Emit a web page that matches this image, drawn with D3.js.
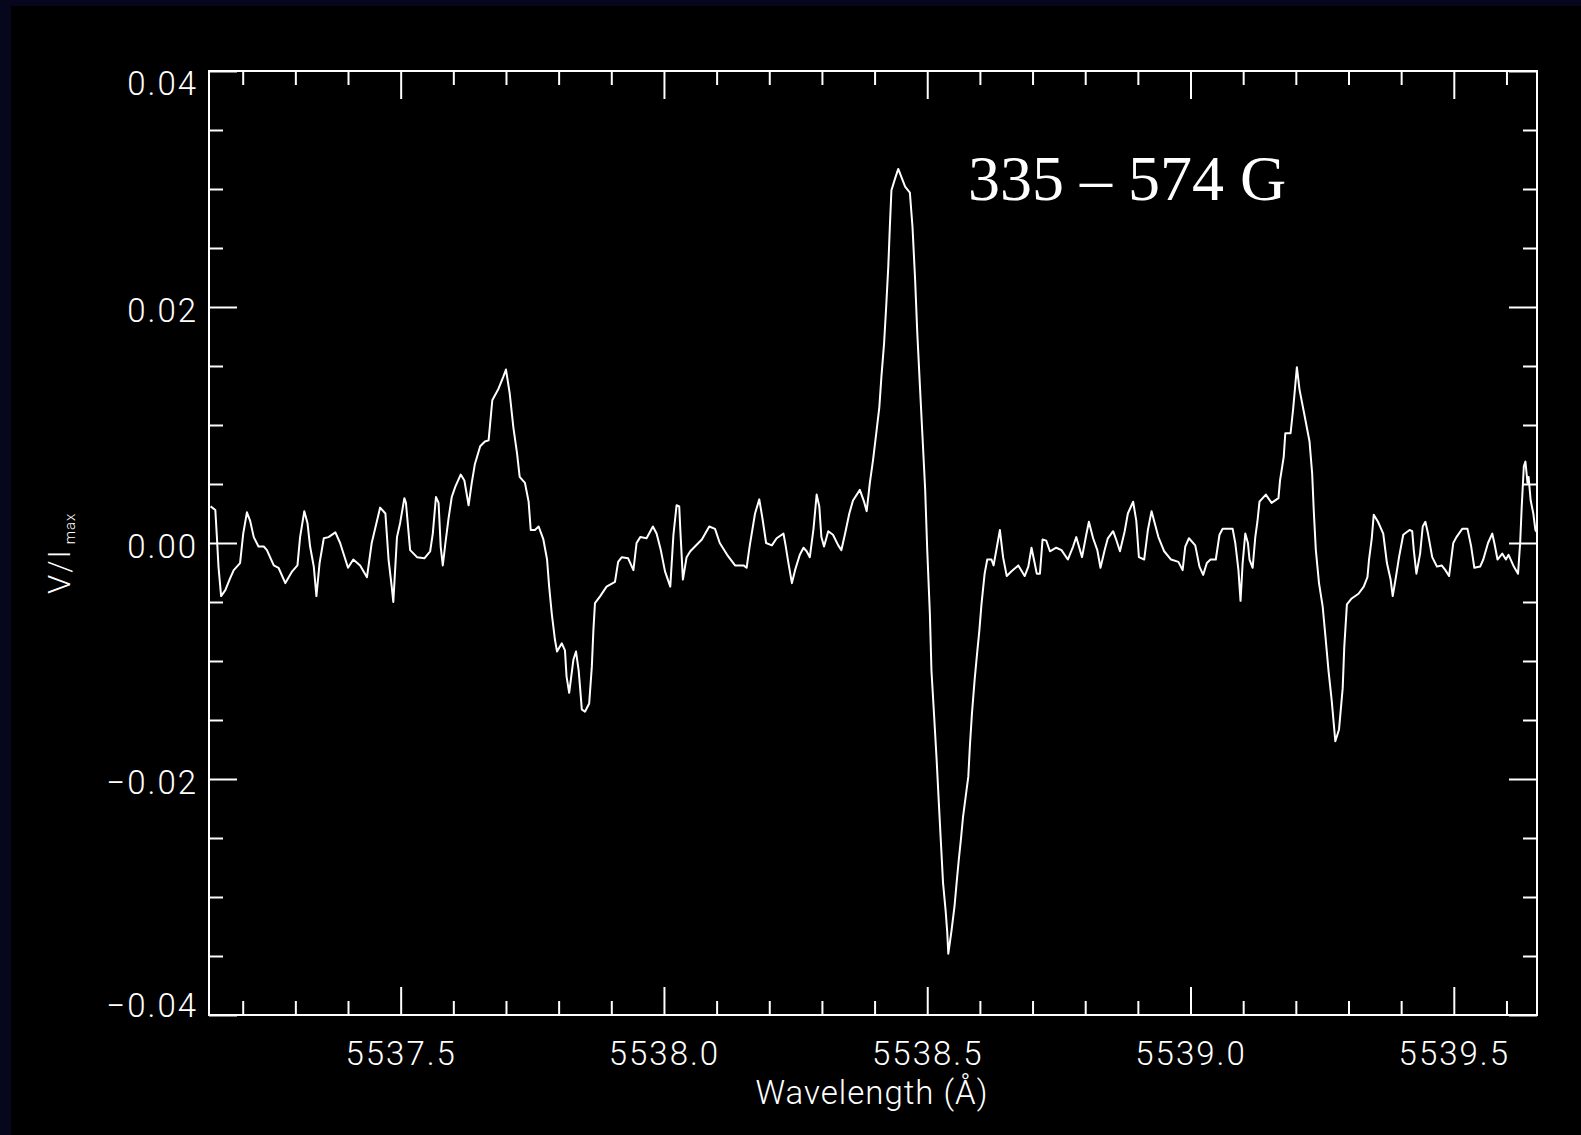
<!DOCTYPE html>
<html><head><meta charset="utf-8">
<script src="https://cdn.jsdelivr.net/npm/d3@7"></script>
<style>
html,body{margin:0;padding:0;background:#000;}
svg{display:block;}
</style></head><body>
<svg id="chart" width="1581" height="1135"></svg>
<script>
// ---- data ----
const wavelength = [
5537.139,5537.148,5537.151,5537.154,5537.159,5537.167,5537.176,5537.183,5537.195,5537.201,
5537.208,5537.214,5537.221,5537.230,5537.240,5537.246,5537.259,5537.268,5537.281,5537.294,
5537.304,5537.309,5537.317,5537.323,5537.328,5537.335,5537.340,5537.346,5537.354,5537.363,
5537.376,5537.385,5537.400,5537.410,5537.423,5537.436,5537.445,5537.461,5537.471,5537.477,
5537.483,5537.486,5537.493,5537.499,5537.507,5537.510,5537.518,5537.531,5537.545,5537.556,
5537.561,5537.567,5537.572,5537.576,5537.580,5537.585,5537.591,5537.597,5537.604,5537.614,
5537.621,5537.629,5537.635,5537.641,5537.651,5537.660,5537.667,5537.674,5537.686,5537.695,
5537.700,5537.707,5537.714,5537.721,5537.726,5537.736,5537.743,5537.747,5537.755,5537.762,
5537.771,5537.778,5537.782,5537.787,5537.793,5537.797,5537.806,5537.812,5537.815,5537.820,
5537.828,5537.833,5537.838,5537.841,5537.844,5537.850,5537.858,5537.863,5537.866,5537.869,
5537.879,5537.891,5537.907,5537.913,5537.920,5537.932,5537.942,5537.948,5537.955,5537.967,
5537.979,5537.986,5537.994,5538.002,5538.012,5538.018,5538.024,5538.029,5538.031,5538.036,
5538.043,5538.050,5538.072,5538.086,5538.097,5538.106,5538.120,5538.135,5538.151,5538.157,
5538.163,5538.173,5538.181,5538.187,5538.194,5538.205,5538.214,5538.227,5538.231,5538.236,
5538.243,5538.249,5538.258,5538.265,5538.271,5538.277,5538.284,5538.290,5538.295,5538.299,
5538.304,5538.312,5538.321,5538.331,5538.337,5538.344,5538.352,5538.359,5538.372,5538.380,
5538.385,5538.391,5538.397,5538.404,5538.409,5538.413,5538.418,5538.422,5538.426,5538.429,
5538.432,5538.439,5538.445,5538.451,5538.458,5538.467,5538.472,5538.477,5538.481,5538.486,
5538.491,5538.496,5538.500,5538.505,5538.508,5538.513,5538.518,5538.522,5538.526,5538.530,
5538.535,5538.538,5538.540,5538.546,5538.552,5538.556,5538.560,5538.564,5538.568,5538.573,
5538.578,5538.581,5538.585,5538.590,5538.595,5538.599,5538.603,5538.609,5538.614,5538.622,
5538.626,5538.632,5538.638,5538.644,5538.651,5538.660,5538.673,5538.685,5538.692,5538.698,
5538.704,5538.708,5538.714,5538.719,5538.726,5538.733,5538.745,5538.755,5538.767,5538.777,
5538.783,5538.790,5538.794,5538.802,5538.807,5538.815,5538.823,5538.829,5538.837,5538.843,
5538.853,5538.858,5538.866,5538.875,5538.881,5538.891,5538.897,5538.902,5538.912,5538.919,
5538.926,5538.939,5538.950,5538.963,5538.977,5538.985,5538.990,5538.997,5539.009,5539.017,
5539.024,5539.031,5539.038,5539.048,5539.055,5539.061,5539.080,5539.085,5539.091,5539.095,
5539.099,5539.104,5539.109,5539.112,5539.118,5539.123,5539.127,5539.131,5539.143,5539.154,
5539.167,5539.170,5539.177,5539.180,5539.190,5539.195,5539.202,5539.207,5539.217,5539.226,
5539.231,5539.234,5539.238,5539.244,5539.251,5539.256,5539.262,5539.268,5539.275,5539.282,
5539.289,5539.292,5539.297,5539.306,5539.319,5539.329,5539.336,5539.339,5539.344,5539.348,
5539.356,5539.366,5539.373,5539.380,5539.384,5539.390,5539.396,5539.404,5539.416,5539.421,
5539.424,5539.429,5539.436,5539.441,5539.446,5539.451,5539.459,5539.468,5539.477,5539.484,
5539.491,5539.499,5539.505,5539.516,5539.526,5539.533,5539.539,5539.550,5539.556,5539.565,
5539.573,5539.577,5539.583,5539.592,5539.599,5539.604,5539.614,5539.622,5539.626,5539.629,
5539.633,5539.636,5539.640,5539.642,5539.646,5539.651,5539.655,5539.658
];
const stokesV = [
0.0031,0.0028,0.0005,-0.0020,-0.0045,-0.0040,-0.0030,-0.0023,-0.0017,0.0008,
0.0026,0.0019,0.0005,-0.0003,-0.0003,-0.0006,-0.0019,-0.0021,-0.0034,-0.0024,
-0.0019,0.0005,0.0027,0.0017,-0.0003,-0.0020,-0.0045,-0.0017,0.0004,0.0005,
0.0009,0.0000,-0.0021,-0.0014,-0.0019,-0.0029,0.0000,0.0030,0.0025,-0.0014,
-0.0037,-0.0050,0.0005,0.0017,0.0038,0.0034,-0.0006,-0.0012,-0.0013,-0.0007,
0.0008,0.0039,0.0034,-0.0003,-0.0019,0.0000,0.0021,0.0039,0.0048,0.0058,
0.0053,0.0032,0.0051,0.0067,0.0082,0.0086,0.0087,0.0121,0.0131,0.0141,
0.0147,0.0127,0.0098,0.0076,0.0056,0.0051,0.0035,0.0011,0.0011,0.0014,
0.0003,-0.0014,-0.0037,-0.0060,-0.0082,-0.0092,-0.0085,-0.0091,-0.0113,-0.0127,
-0.0099,-0.0092,-0.0108,-0.0124,-0.0141,-0.0143,-0.0136,-0.0105,-0.0074,-0.0051,
-0.0045,-0.0037,-0.0033,-0.0016,-0.0012,-0.0013,-0.0023,0.0000,0.0005,0.0004,
0.0014,0.0008,-0.0006,-0.0024,-0.0037,0.0007,0.0032,0.0031,0.0012,-0.0031,
-0.0012,-0.0007,0.0003,0.0014,0.0012,0.0000,-0.0010,-0.0019,-0.0019,-0.0021,
-0.0002,0.0025,0.0037,0.0021,0.0000,-0.0002,0.0004,0.0008,-0.0002,-0.0016,
-0.0034,-0.0023,-0.0010,-0.0004,-0.0007,-0.0012,0.0012,0.0041,0.0031,0.0005,
-0.0003,0.0010,0.0007,-0.0002,-0.0006,0.0008,0.0025,0.0036,0.0045,0.0035,
0.0027,0.0051,0.0070,0.0096,0.0115,0.0141,0.0169,0.0200,0.0234,0.0268,
0.0299,0.0309,0.0317,0.0310,0.0302,0.0297,0.0268,0.0223,0.0179,0.0134,
0.0090,0.0046,-0.0006,-0.0060,-0.0108,-0.0146,-0.0185,-0.0220,-0.0254,-0.0288,
-0.0312,-0.0330,-0.0348,-0.0329,-0.0307,-0.0287,-0.0268,-0.0251,-0.0232,-0.0215,
-0.0198,-0.0172,-0.0144,-0.0116,-0.0092,-0.0074,-0.0052,-0.0026,-0.0014,-0.0014,
-0.0019,-0.0004,0.0011,-0.0012,-0.0028,-0.0024,-0.0019,-0.0028,-0.0020,-0.0004,
-0.0017,-0.0026,-0.0026,0.0003,0.0002,-0.0007,-0.0004,-0.0006,-0.0014,-0.0003,
0.0005,-0.0006,-0.0012,0.0007,0.0018,0.0004,-0.0006,-0.0021,-0.0006,0.0004,
0.0010,0.0004,-0.0007,0.0010,0.0025,0.0035,0.0019,-0.0012,-0.0014,0.0011,
0.0027,0.0005,-0.0007,-0.0014,-0.0016,-0.0023,-0.0003,0.0004,-0.0002,-0.0020,
-0.0027,-0.0017,-0.0014,-0.0014,0.0007,0.0012,0.0012,0.0000,-0.0023,-0.0049,
-0.0017,0.0008,0.0000,-0.0014,-0.0021,0.0005,0.0018,0.0035,0.0041,0.0034,
0.0038,0.0053,0.0073,0.0093,0.0093,0.0114,0.0149,0.0130,0.0107,0.0086,
0.0059,0.0028,-0.0006,-0.0034,-0.0054,-0.0078,-0.0108,-0.0133,-0.0168,-0.0158,
-0.0123,-0.0088,-0.0052,-0.0047,-0.0043,-0.0037,-0.0029,-0.0014,0.0003,0.0024,
0.0018,0.0008,-0.0017,-0.0031,-0.0045,-0.0029,-0.0012,0.0007,0.0011,0.0010,
-0.0006,-0.0026,-0.0009,0.0014,0.0018,0.0008,-0.0012,-0.0020,-0.0019,-0.0023,
-0.0028,0.0000,0.0005,0.0012,0.0012,-0.0003,-0.0021,-0.0020,-0.0014,0.0000,
0.0008,0.0000,-0.0014,-0.0009,-0.0014,-0.0010,-0.0020,-0.0026,0.0000,0.0031,
0.0065,0.0069,0.0051,0.0056,0.0036,0.0025,0.0011,0.0009
];
const xDomain = [5537.136, 5539.658];
const yDomain = [-0.04, 0.04];
const xMajorTicks = [5537.5, 5538.0, 5538.5, 5539.0, 5539.5];
const xMinorTicks = [5537.2,5537.3,5537.4,5537.6,5537.7,5537.8,5537.9,5538.1,5538.2,5538.3,5538.4,
                     5538.6,5538.7,5538.8,5538.9,5539.1,5539.2,5539.3,5539.4,5539.6];
const yMajorTicks = [-0.04, -0.02, 0.00, 0.02, 0.04];
const yMinorTicks = [-0.035,-0.03,-0.025,-0.015,-0.01,-0.005,0.005,0.01,0.015,0.025,0.03,0.035];
const xTitle = "Wavelength (Å)";
const yTitleMain = "V/I";
const yTitleSub = "max";
const annotation = "335 – 574 G";

// ---- drawing ----
const W = 1581, H = 1135;
const plot = {left: 209, right: 1537, top: 71, bottom: 1015};
const x = d3.scaleLinear().domain(xDomain).range([plot.left, plot.right]);
const y = d3.scaleLinear().domain(yDomain).range([plot.bottom, plot.top]);
const svg = d3.select("#chart");
const FONT = "Roboto, 'DejaVu Sans', sans-serif";

svg.append("rect").attr("width", W).attr("height", H).attr("fill", "#06061c");
svg.append("rect").attr("x", 11).attr("y", 6).attr("width", W - 11).attr("height", H - 6).attr("fill", "#000");

svg.append("defs").append("clipPath").attr("id", "clip")
  .append("rect").attr("x", plot.left).attr("y", plot.top)
  .attr("width", plot.right - plot.left).attr("height", plot.bottom - plot.top);

function tidy(g) {
  g.select(".domain").remove();
  g.selectAll("line").attr("stroke", "#fff").attr("stroke-width", 2);
}
function labelStyle(sel) {
  sel.attr("fill", "#fff").attr("font-family", FONT).attr("font-size", 33)
     .attr("font-weight", 300).attr("letter-spacing", 2);
}

// bottom axis
const gB = svg.append("g").attr("transform", `translate(0,${plot.bottom})`)
  .call(d3.axisBottom(x).tickValues(xMajorTicks).tickSize(-28).tickSizeOuter(0).tickFormat(d3.format(".1f")));
tidy(gB);
gB.selectAll("text").attr("y", 50).attr("dy", 0).call(labelStyle);
const gBm = svg.append("g").attr("transform", `translate(0,${plot.bottom})`)
  .call(d3.axisBottom(x).tickValues(xMinorTicks).tickSize(-14).tickSizeOuter(0).tickFormat(""));
tidy(gBm);
// top axis
const gT = svg.append("g").attr("transform", `translate(0,${plot.top})`)
  .call(d3.axisTop(x).tickValues(xMajorTicks).tickSize(-28).tickSizeOuter(0).tickFormat(""));
tidy(gT);
const gTm = svg.append("g").attr("transform", `translate(0,${plot.top})`)
  .call(d3.axisTop(x).tickValues(xMinorTicks).tickSize(-14).tickSizeOuter(0).tickFormat(""));
tidy(gTm);

// left axis
const capH = 23.5;
const gL = svg.append("g").attr("transform", `translate(${plot.left},0)`)
  .call(d3.axisLeft(y).tickValues(yMajorTicks).tickSize(-28).tickSizeOuter(0).tickFormat(d3.format(".2f")));
tidy(gL);
gL.selectAll("text").call(labelStyle)
  .attr("x", -11).attr("dy", 0)
  .attr("y", d => {
    let base = y(d) + 3 + capH / 2;
    base = Math.max(base, plot.top + capH);
    base = Math.min(base, plot.bottom + 1.5);
    return base - y(d);
  });
const gLm = svg.append("g").attr("transform", `translate(${plot.left},0)`)
  .call(d3.axisLeft(y).tickValues(yMinorTicks).tickSize(-14).tickSizeOuter(0).tickFormat(""));
tidy(gLm);
// right axis
const gR = svg.append("g").attr("transform", `translate(${plot.right},0)`)
  .call(d3.axisRight(y).tickValues(yMajorTicks).tickSize(-28).tickSizeOuter(0).tickFormat(""));
tidy(gR);
const gRm = svg.append("g").attr("transform", `translate(${plot.right},0)`)
  .call(d3.axisRight(y).tickValues(yMinorTicks).tickSize(-14).tickSizeOuter(0).tickFormat(""));
tidy(gRm);

// frame
svg.append("rect").attr("x", plot.left).attr("y", plot.top)
  .attr("width", plot.right - plot.left).attr("height", plot.bottom - plot.top)
  .attr("fill", "none").attr("stroke", "#fff").attr("stroke-width", 2);

// spectrum
const pts = wavelength.map((w, i) => [w, stokesV[i]]);
svg.append("path").datum(pts)
  .attr("clip-path", "url(#clip)")
  .attr("fill", "none").attr("stroke", "#fff").attr("stroke-width", 2)
  .attr("stroke-linejoin", "round")
  .attr("d", d3.line().x(d => x(d[0])).y(d => y(d[1])));

// axis titles
svg.append("text").attr("x", 872).attr("y", 1104).attr("text-anchor", "middle")
  .text(xTitle).call(labelStyle).attr("letter-spacing", 1);

const yt = svg.append("text").attr("transform", "translate(70,594) rotate(-90)")
  .attr("fill", "#fff").attr("font-family", FONT).attr("font-weight", 300)
  .attr("font-size", 31).attr("letter-spacing", 2);
yt.append("tspan").text(yTitleMain);
yt.append("tspan").attr("font-size", 15).attr("dy", 5).attr("dx", 4).attr("letter-spacing", 1).text(yTitleSub);

// annotation
svg.append("text").attr("x", 968).attr("y", 200)
  .attr("fill", "#fff").attr("font-family", "'Liberation Serif', 'Times New Roman', serif")
  .attr("font-size", 64).text(annotation);
</script>
</body></html>
